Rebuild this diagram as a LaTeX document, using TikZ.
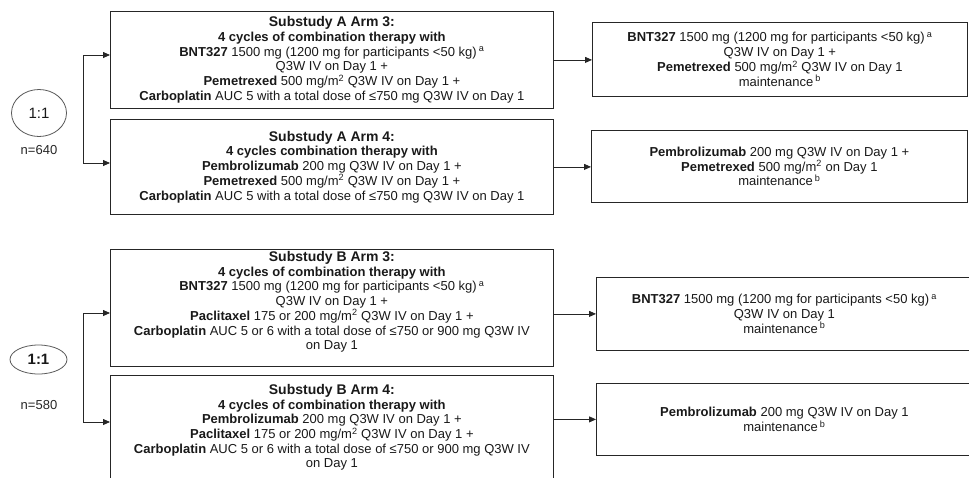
\documentclass[tikz,border=0pt]{standalone}
\usepackage{fontspec}
\setmainfont{Liberation Sans}
\usetikzlibrary{shapes.geometric}
\usetikzlibrary{arrows.meta}

\tikzset{
  armbox/.style={draw=black!85, line width=0.8pt, anchor=north west, align=center,
    inner sep=2pt, minimum width=443pt, text=black!90,
    font=\fontsize{13}{14.7}\selectfont},
  mainbox/.style={armbox, minimum width=376pt},
  ratio/.style={draw=black!65, ellipse, line width=0.8pt, inner sep=0pt, text=black!90},
  arr/.style={draw=black!85, line width=0.8pt, -{Triangle[length=7pt,width=6pt]}},
  bracket/.style={draw=black!85, line width=0.8pt},
}
\newcommand{\armtitle}[1]{{\fontsize{14}{16}\selectfont\bfseries #1}}
\newcommand{\supnote}[1]{\,\textsuperscript{#1}}
\newcommand{\lowpad}[1]{\rule[-#1]{0pt}{0pt}}

\begin{document}
\begin{tikzpicture}[x=1pt, y=-1pt]
    \useasboundingbox (0,0) rectangle (969,477);
    \clip (0,0) rectangle (969,477);

    % substudy A
    \node[ratio, minimum width=55pt, minimum height=47pt, font=\fontsize{15}{17}\selectfont] (ra) at (39,113) {1:1};
    \node[text=black!85, font=\fontsize{13}{15}\selectfont] (na) at (39,150) {n=640};

    \node[armbox, minimum height=97pt] (a3) at (110,11) {\armtitle{Substudy A Arm 3:}\\
        \textbf{4 cycles of combination therapy with}\\
        \textbf{BNT327} 1500 mg (1200 mg for participants <50 kg)\supnote{a}\\
        Q3W IV on Day 1 +\\
        \textbf{Pemetrexed} 500 mg/m\textsuperscript{2} Q3W IV on Day 1 +\\
        \textbf{Carboplatin} AUC 5 with a total dose of ≤750 mg Q3W IV on Day 1};
    \node[armbox, minimum height=95pt] (a4) at (110,119) {\armtitle{Substudy A Arm 4:}\\
        \textbf{4 cycles combination therapy with}\\
        \textbf{Pembrolizumab} 200 mg Q3W IV on Day 1 +\\
        \textbf{Pemetrexed} 500 mg/m\textsuperscript{2} Q3W IV on Day 1 +\\
        \textbf{Carboplatin} AUC 5 with a total dose of ≤750 mg Q3W IV on Day 1};

    \node[mainbox, minimum width=375pt, minimum height=74pt] (r1) at (592,22) {\textbf{BNT327} 1500 mg (1200 mg for participants <50 kg)\supnote{a}\\
        Q3W IV on Day 1 +\\
        \textbf{Pemetrexed} 500 mg/m\textsuperscript{2} Q3W IV on Day 1\\
        maintenance\supnote{b}};
    \node[mainbox, minimum height=72pt] (r2) at (591,130) {\textbf{Pembrolizumab} 200 mg Q3W IV on Day 1 +\\
        \textbf{Pemetrexed} 500 mg/m\textsuperscript{2} on Day 1\\
        maintenance\supnote{b}};

    \coordinate (ja1) at (83,55);
    \coordinate (ja2) at (83,163);
    \draw[bracket] (ja1) -- (ja2);
    \draw[arr] (ja1) -- (ja1 -| a3.west);
    \draw[arr] (ja2) -- (ja2 -| a4.west);
    \draw[arr] (a3.east) -- (a3.east -| r1.west);
    \draw[arr] (a4.east) -- (a4.east -| r2.west);

    % substudy B
    \node[ratio, minimum width=57pt, minimum height=29pt, font=\fontsize{15}{17}\selectfont\bfseries] (rb) at (38.5,359.5) {1:1};
    \node[text=black!85, font=\fontsize{13}{15}\selectfont] (nb) at (39,405) {n=580};

    \node[armbox, minimum height=112pt] (b3) at (110,249) {\armtitle{Substudy B Arm 3:}\\
        \textbf{4 cycles of combination therapy with}\\
        \textbf{BNT327} 1500 mg (1200 mg for participants <50 kg)\supnote{a}\\
        Q3W IV on Day 1 +\\
        \textbf{Paclitaxel} 175 or 200 mg/m\textsuperscript{2} Q3W IV on Day 1 +\\
        \textbf{Carboplatin} AUC 5 or 6 with a total dose of ≤750 or 900 mg Q3W IV\\
        on Day 1\lowpad{15pt}};
    \node[armbox, minimum height=104pt] (b4) at (110,375) {\armtitle{Substudy B Arm 4:}\\
        \textbf{4 cycles of combination therapy with}\\
        \textbf{Pembrolizumab} 200 mg Q3W IV on Day 1 +\\
        \textbf{Paclitaxel} 175 or 200 mg/m\textsuperscript{2} Q3W IV on Day 1 +\\
        \textbf{Carboplatin} AUC 5 or 6 with a total dose of ≤750 or 900 mg Q3W IV\\
        on Day 1};

    \node[mainbox, minimum height=73pt] (r3) at (596,277) {\textbf{BNT327} 1500 mg (1200 mg for participants <50 kg)\supnote{a}\\
        Q3W IV on Day 1\\
        maintenance\supnote{b}};
    \node[mainbox, minimum height=72pt] (r4) at (596,383) {\textbf{Pembrolizumab} 200 mg Q3W IV on Day 1\\
        maintenance\supnote{b}};

    \coordinate (jb1) at (83,313);
    \coordinate (jb2) at (83,422);
    \draw[bracket] (jb1) -- (jb2);
    \draw[arr] (jb1) -- (jb1 -| b3.west);
    \draw[arr] (jb2) -- (jb2 -| b4.west);
    \draw[arr] (r3.west -| b3.east) -- (r3.west);
    \draw[arr] (r4.west -| b4.east) -- (r4.west);
\end{tikzpicture}
\end{document}
